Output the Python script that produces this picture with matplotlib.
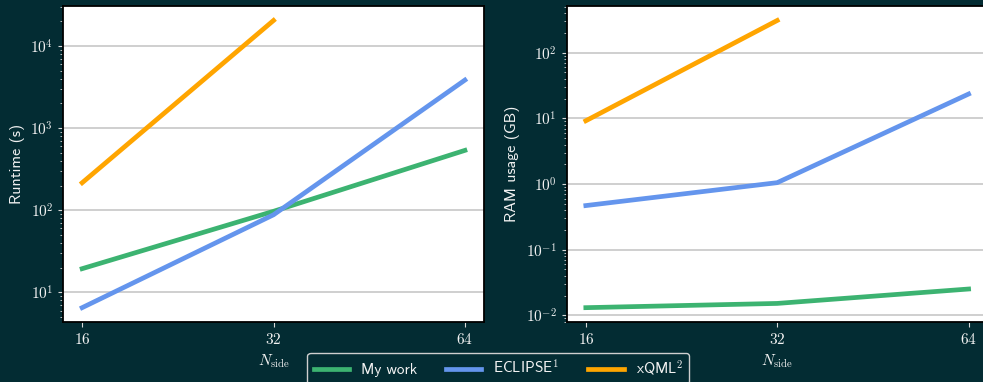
"""Runtime and memory scaling vs N_side for three power-spectrum codes."""
import matplotlib
matplotlib.use("Agg")
import matplotlib.pyplot as plt
import numpy as np
from matplotlib.ticker import FixedLocator, FuncFormatter, NullLocator

BG = "#032c33"
FG = "#f2f2f2"

plt.rcParams["font.family"] = ["cmss10", "DejaVu Sans"]
plt.rcParams["mathtext.fontset"] = "cm"
plt.rcParams["axes.unicode_minus"] = False

nside = [16, 32, 64]
nside_labels = ["$16$", "$32$", "$64$"]

# runtime in seconds
runtime_mywork = [19.4, 97, 536]
runtime_eclipse = [6.5, 88, 3850]
runtime_xqml = [216, 20500]

# peak memory in GB
ram_mywork = [0.0131, 0.0152, 0.0252]
ram_eclipse = [0.47, 1.05, 23.5]
ram_xqml = [9.2, 310]

codes = ["My work", "ECLIPSE$^1$", "xQML$^2$"]
colors = ["#3cb371", "#6495ed", "#ffa500"]


def decade_label(v, pos):
    return r"$10^{%d}$" % int(round(np.log10(v)))


def style_axis(ax, ylabel):
    ax.set_facecolor("white")
    ax.set_xscale("log", base=2)
    ax.set_yscale("log")
    ax.xaxis.set_major_locator(FixedLocator(nside))
    ax.xaxis.set_minor_locator(NullLocator())
    ax.set_xticklabels(nside_labels)
    ax.yaxis.set_major_formatter(FuncFormatter(decade_label))
    ax.set_xlabel(r"$N_{\rm side}$", color=FG, fontsize=11, labelpad=4)
    ax.set_ylabel(ylabel, color=FG, fontsize=11.5)
    ax.grid(axis="y", which="major", color="#cccccc", linewidth=1.3)
    ax.set_axisbelow(True)
    ax.tick_params(axis="both", which="both", colors="#d8d8d8", labelcolor=FG)
    ax.tick_params(axis="x", labelsize=11)
    ax.tick_params(axis="y", which="major", labelsize=11)
    for sp in ax.spines.values():
        sp.set_color("black")
        sp.set_linewidth(1.3)


fig = plt.figure(figsize=(9.83, 3.82), dpi=100, facecolor=BG)
ax1 = fig.add_axes([0.0641, 0.157, 0.4283, 0.827])
ax2 = fig.add_axes([0.5765, 0.157, 0.4283, 0.827])

lines = []
for ys, c, lab in zip([runtime_mywork, runtime_eclipse, runtime_xqml], colors, codes):
    (ln,) = ax1.plot(nside[: len(ys)], ys, color=c, lw=3.4, label=lab)
    lines.append(ln)
for ys, c in zip([ram_mywork, ram_eclipse, ram_xqml], colors):
    ax2.plot(nside[: len(ys)], ys, color=c, lw=3.4)

style_axis(ax1, "Runtime (s)")
style_axis(ax2, "RAM usage (GB)")

leg = fig.legend(
    lines, codes, loc="upper center", bbox_to_anchor=(0.507, 0.077),
    ncol=3, frameon=True, fontsize=11, handlelength=2.3, columnspacing=1.9,
    borderaxespad=0.0, fancybox=True,
)
leg.get_frame().set_facecolor(BG)
leg.get_frame().set_edgecolor("#cfcfcf")
leg.get_frame().set_alpha(1.0)
for t in leg.get_texts():
    t.set_color(FG)

fig.savefig("out.png", dpi=100, facecolor=BG)
